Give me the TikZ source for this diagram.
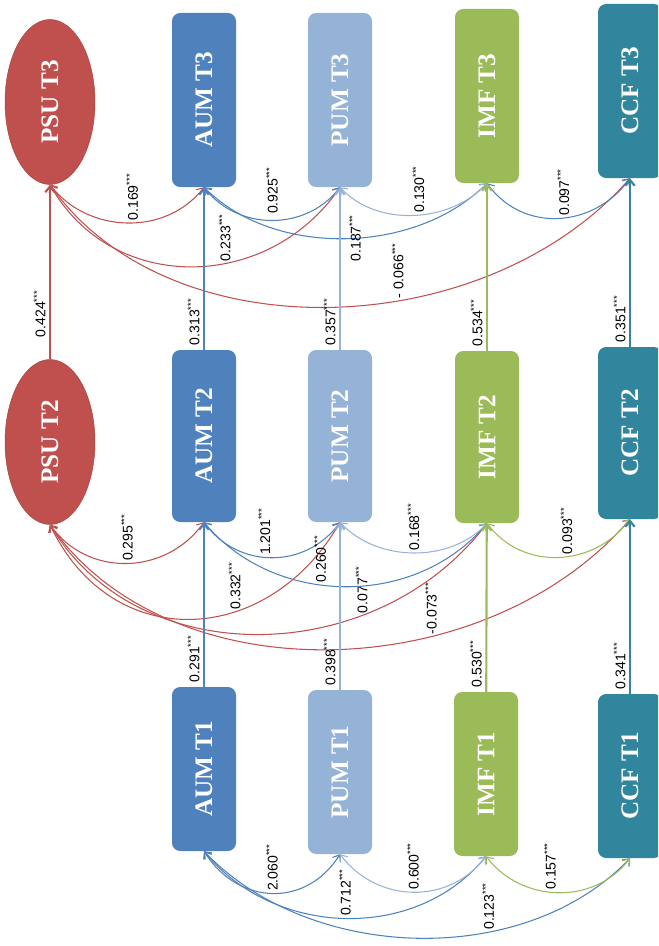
\documentclass[tikz,border=0pt]{standalone}
\usepackage{fontspec}
\setmainfont{Liberation Serif}
\newfontfamily\lblfont{Liberation Sans}
\usepackage{graphicx}
\usetikzlibrary{shapes.geometric, arrows.meta}
\definecolor{psured}{HTML}{C0504D}
\definecolor{aumblue}{HTML}{4F81BD}
\definecolor{pumblue}{HTML}{95B3D7}
\definecolor{imfgreen}{HTML}{9BBB59}
\definecolor{ccfteal}{HTML}{31859C}
\newcommand{\st}{\textsuperscript{***}}
\newcommand{\vtext}[1]{\rotatebox{90}{#1}}

\begin{document}
\begin{tikzpicture}[
    x=0.03cm, y=-0.03cm,
    latent/.style={ellipse, fill=psured, draw=psured!85!black, minimum width=2.7cm, minimum height=4.95cm, text=white, font=\fontsize{21.5}{25}\selectfont\bfseries},
    obs/.style={rectangle, rounded corners=7pt, minimum width=1.92cm, text=white, font=\fontsize{21.5}{25}\selectfont\bfseries},
    tone/.style={obs, minimum height=4.92cm},
    ttwo/.style={obs, minimum height=5.16cm},
    tthree/.style={obs, minimum height=5.22cm},
    regpath/.style={-{Straight Barb[length=5pt,width=8pt]}, line width=1.8pt},
    cov/.style={{Straight Barb[length=5pt,width=8pt]}-{Straight Barb[length=5pt,width=8pt]}, line width=0.9pt},
    lbl/.style={rotate=90, anchor=west, inner sep=1.5pt, text=black, font=\lblfont\fontsize{12}{14}\selectfont},
    vlbl/.style={lbl, anchor=south west, inner sep=3pt}
]
    \path[use as bounding box, clip] (0,0) rectangle (658,946);

    % Time 3
    \node[latent] (psu3) at (50,102) {\vtext{PSU T3}};
    \node[tthree, fill=aumblue] (aum3) at (204,100) {\vtext{AUM T3}};
    \node[tthree, fill=pumblue] (pum3) at (340,100) {\vtext{PUM T3}};
    \node[tthree, fill=imfgreen] (imf3) at (487,96) {\vtext{IMF T3}};
    \node[tthree, fill=ccfteal] (ccf3) at (630,91) {\vtext{CCF T3}};

    % Time 2
    \node[latent] (psu2) at (50,442) {\vtext{PSU T2}};
    \node[ttwo, fill=aumblue] (aum2) at (204,436) {\vtext{AUM T2}};
    \node[ttwo, fill=pumblue] (pum2) at (340,436) {\vtext{PUM T2}};
    \node[ttwo, fill=imfgreen] (imf2) at (487,437) {\vtext{IMF T2}};
    \node[ttwo, fill=ccfteal] (ccf2) at (630,433) {\vtext{CCF T2}};

    % Time 1
    \node[tone, fill=aumblue] (aum1) at (204,769) {\vtext{AUM T1}};
    \node[tone, fill=pumblue] (pum1) at (340,772) {\vtext{PUM T1}};
    \node[tone, fill=imfgreen] (imf1) at (486,774) {\vtext{IMF T1}};
    \node[tone, fill=ccfteal] (ccf1) at (630,776) {\vtext{CCF T1}};

    % Covariances T3
    \draw[cov, psured] (psu3.south) .. controls +(38,49) and +(-38,49) .. node[lbl, pos=.53] {0.169\st} (aum3.south);
    \draw[cov, psured] (psu3.south) .. controls +(62,110) and +(-72,105) .. node[lbl, pos=.6] {0.233\st} (pum3.south);
    \draw[cov, psured] (psu3.south) .. controls +(120,170) and +(-145,165) .. node[lbl, pos=.6] {- 0.066\st} (ccf3.south);
    \draw[cov, aumblue] (aum3.south) .. controls +(34,44) and +(-34,44) .. node[lbl, pos=.5, inner sep=5pt] {0.925\st} (pum3.south);
    \draw[cov, aumblue] (aum3.south) .. controls +(71,71) and +(-71,71) .. node[lbl, pos=.53, anchor=center] {0.187\st} (imf3.south);
    \draw[cov, pumblue] (pum3.south) .. controls +(37,40) and +(-37,40) .. node[lbl, pos=.53] {0.130\st} (imf3.south);
    \draw[cov, aumblue] (imf3.south) .. controls +(36,50) and +(-36,50) .. node[lbl, pos=.53] {0.097\st} (ccf3.south);

    % Covariances T2
    \draw[cov, psured] (psu2.south) .. controls +(38,53) and +(-38,53) .. node[lbl, pos=.5] {0.295\st} (aum2.south);
    \draw[cov, psured] (psu2.south) .. controls +(62,130) and +(-72,125) .. node[lbl, pos=.63] {0.332\st} (pum2.south);
    \draw[cov, psured] (psu2.south) .. controls +(90,150) and +(-109,144) .. node[lbl, pos=.7] {0.077\st} (imf2.south);
    \draw[cov, psured] (psu2.south) .. controls +(120,172) and +(-145,168) .. node[lbl, pos=.65] {-0.073\st} (ccf2.south);
    \draw[cov, aumblue] (aum2.south) .. controls +(34,47) and +(-34,47) .. node[lbl, pos=.45] {1.201\st} (pum2.south);
    \draw[cov, aumblue] (aum2.south) .. controls +(71,85) and +(-71,85) .. node[lbl, pos=.42] {0.260\st} (imf2.south);
    \draw[cov, pumblue] (pum2.south) .. controls +(37,40) and +(-37,40) .. node[lbl, pos=.5] {0.168\st} (imf2.south);
    \draw[cov, imfgreen] (imf2.south) .. controls +(36,48) and +(-36,48) .. node[lbl, pos=.55] {0.093\st} (ccf2.south);

    % Covariances T1
    \draw[cov, aumblue] (aum1.south) .. controls +(34,54) and +(-34,54) .. node[lbl, pos=.5] {2.060\st} (pum1.south);
    \draw[cov, aumblue] (aum1.south) .. controls +(70,86) and +(-70,86) .. node[lbl, pos=.5] {0.712\st} (imf1.south);
    \draw[cov, aumblue] (aum1.south) .. controls +(106,111) and +(-106,111) .. node[lbl, pos=.65] {0.123\st} (ccf1.south);
    \draw[cov, pumblue] (pum1.south) .. controls +(37,49) and +(-37,49) .. node[lbl, pos=.5] {0.600\st} (imf1.south);
    \draw[cov, imfgreen] (imf1.south) .. controls +(36,47) and +(-36,47) .. node[lbl, pos=.45] {0.157\st} (ccf1.south);

    % Stability paths
    \draw[regpath, psured] (psu2) -- node[vlbl, pos=.1] {0.424\st} (psu3);
    \draw[regpath, aumblue] (aum1) -- node[vlbl, pos=0] {0.291\st} (aum2);
    \draw[regpath, aumblue] (aum2) -- node[vlbl, pos=0] {0.313\st} (aum3);
    \draw[regpath, pumblue] (pum1) -- node[vlbl, pos=0] {0.398\st} (pum2);
    \draw[regpath, pumblue] (pum2) -- node[vlbl, pos=0] {0.357\st} (pum3);
    \draw[regpath, imfgreen] (imf1) -- node[vlbl, pos=0] {0.530\st} (imf2);
    \draw[regpath, imfgreen] (imf2) -- node[vlbl, pos=0] {0.534\st} (imf3);
    \draw[regpath, ccfteal] (ccf1) -- node[vlbl, pos=0] {0.341\st} (ccf2);
    \draw[regpath, ccfteal] (ccf2) -- node[vlbl, pos=0] {0.351\st} (ccf3);
\end{tikzpicture}
\end{document}
